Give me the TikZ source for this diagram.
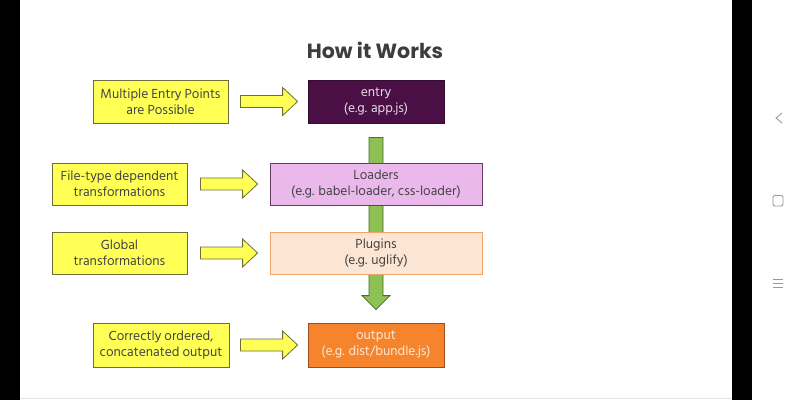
\documentclass[tikz,border=0pt]{standalone}
\usepackage{fontspec}
\usetikzlibrary{calc}
\newfontfamily\bodyfont{Hind Siliguri}
\newfontfamily\titlefont{Poppins}
\definecolor{yel}{HTML}{FFFF55}
\definecolor{yelb}{HTML}{6E6E3C}
\definecolor{entryc}{HTML}{4A1046}
\definecolor{loadc}{HTML}{EBB8EC}
\definecolor{loadb}{HTML}{6A3C6A}
\definecolor{plugc}{HTML}{FDE5D3}
\definecolor{plugb}{HTML}{EFA66A}
\definecolor{outc}{HTML}{F5842C}
\definecolor{outb}{HTML}{9A4E1E}
\definecolor{grn}{HTML}{8DC153}
\definecolor{grnb}{HTML}{4E6B2C}
\definecolor{txt}{HTML}{444444}
\definecolor{navc}{HTML}{9A9A9A}
\tikzset{
  box/.style={draw, line width=0.8pt, inner sep=0pt, align=center,
    font=\bodyfont\fontsize{13.5}{16}\selectfont},
  ybox/.style={box, fill=yel, draw=yelb, text=txt, minimum width=135pt, minimum height=43pt},
  yarrow/.style={fill=yel, draw=yelb, line width=0.8pt, line join=miter},
  garrow/.style={fill=grn, draw=grnb, line width=0.8pt, line join=miter},
}
\newcommand{\harrow}[3][yarrow]{%
  \draw[#1] ($(#2)+(0,-6)$) -- ($(#3)+(-15,-6)$) -- ($(#3)+(-15,-14)$) -- (#3)
    -- ($(#3)+(-15,14)$) -- ($(#3)+(-15,6)$) -- ($(#2)+(0,6)$) -- cycle;}
\begin{document}
\begin{tikzpicture}[x=1pt,y=-1pt]
\useasboundingbox (0,0) rectangle (800,400);
\fill[white] (0,0) rectangle (800,400);
% black side bars
\fill[black] (0,0) rectangle (20,400);
\fill[black] (732,0) rectangle (752,400);
\draw[black!10, line width=0.6pt] (20,398.5) -- (732,398.5);
% nav icons
\draw[navc, line width=0.9pt] (782,113) -- (776,118) -- (782,123);
\draw[navc, line width=0.9pt, rounded corners=2pt] (773,195.5) rectangle (783,206);
\draw[navc, line width=0.9pt] (773,279) -- (783,279) (773,283) -- (783,283) (773,287) -- (783,287);
% title
\node[font=\titlefont\bfseries\fontsize{20.5}{24}\selectfont, text=txt!90!black] (title) at (375,50) {How it Works};
% main column
\node[box, fill=entryc, draw=entryc!70!black, text=white!85!entryc, minimum width=136pt, minimum height=43pt] (entry) at (376,101.5) {entry\\(e.g. app.js)};
\node[box, fill=outc, draw=outb, text=white!80!outc, minimum width=136pt, minimum height=44pt] (output) at (376,345) {output\\(e.g. dist/bundle.js)};
% green arrow (behind the boxes)
\coordinate (gs) at ($(entry.south)+(0,14)$);
\coordinate (ge) at ($(output.north)+(0,-13)$);
\draw[garrow] ($(gs)+(-7,0)$) -- ($(ge)+(-7,-14)$) -- ($(ge)+(-14,-14)$) -- (ge)
  -- ($(ge)+(14,-14)$) -- ($(ge)+(7,-14)$) -- ($(gs)+(7,0)$) -- cycle;
\node[box, fill=loadc, draw=loadb, text=txt, minimum width=212pt, minimum height=42pt] (loaders) at (376,184) {Loaders\\(e.g. babel-loader, css-loader)};
\node[box, fill=plugc, draw=plugb, text=txt, minimum width=212pt, minimum height=42pt] (plugins) at (376,253) {Plugins\\(e.g. uglify)};
% yellow notes
\node[ybox] (y1) at (160.5,101.5) {Multiple Entry Points\\are Possible};
\node[ybox, minimum height=42pt] (y2) at (119.5,184) {File-type dependent\\transformations};
\node[ybox, minimum height=42pt] (y3) at (119.5,253) {Global\\transformations};
\node[ybox, minimum width=136pt, minimum height=44pt] (y4) at (161,345) {Correctly ordered,\\concatenated output};
% yellow block arrows
\harrow{$(y1.east)+(12,0)$}{$(entry.west)+(-10,0)$}
\harrow{$(y2.east)+(13,0)$}{$(loaders.west)+(-12,0)$}
\harrow{$(y3.east)+(13,0)$}{$(plugins.west)+(-12,0)$}
\harrow{$(y4.east)+(11,0)$}{$(output.west)+(-10,0)$}
\end{tikzpicture}
\end{document}
